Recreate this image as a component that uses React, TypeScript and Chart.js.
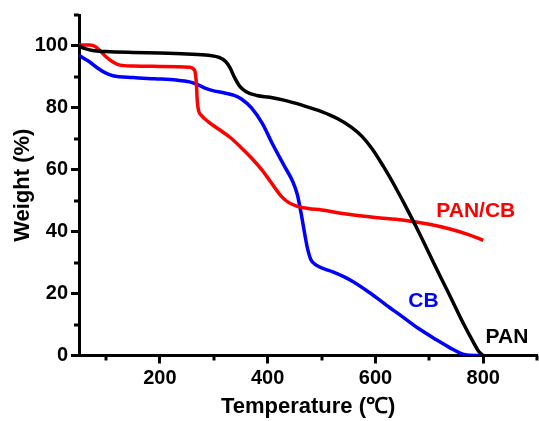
import React, { useEffect, useRef } from "react";
import { Chart, registerables } from "chart.js";

Chart.register(...registerables);

// ---- data (temperature in °C, weight in %) ----
const panTemp = [50, 60, 75, 100, 150, 200, 250, 290, 310, 322, 330, 338, 348, 360, 380, 404, 430, 465, 500, 530, 555, 575, 595, 615, 635, 655, 680, 700, 720, 740, 760, 780, 792, 800];
const panWeight = [100, 99.2, 98.5, 98.2, 97.9, 97.7, 97.4, 97, 96.3, 95, 93, 90, 87, 85.2, 84, 83.4, 82.5, 80.8, 78.8, 76.5, 73.8, 70.8, 66.5, 61, 55, 48.5, 40, 32.8, 25.6, 18.6, 11.4, 4.8, 1.2, 0];

const panCbTemp = [50, 70, 80, 90, 100, 113, 126, 150, 200, 255, 262, 266, 268, 269.5, 272, 277, 290, 310, 330, 350, 370, 390, 410, 425, 440, 455, 475, 500, 550, 600, 650, 700, 740, 770, 800];
const panCbWeight = [100.3, 100.3, 99.8, 98.3, 96.5, 94.8, 93.8, 93.5, 93.4, 93.1, 92.6, 91, 87, 82, 79, 77.6, 75.5, 73, 70.5, 67.3, 63.8, 59.8, 55, 51.5, 49.3, 48.2, 47.5, 47, 45.6, 44.6, 43.8, 42.4, 40.8, 39.2, 37.2];

const cbTemp = [50, 60, 70, 85, 100, 113, 150, 190, 230, 255, 270, 285, 300, 320, 338, 352, 370, 390, 410, 430, 447, 455, 462, 468, 474, 480, 490, 505, 521, 553, 590, 620, 651, 680, 714, 740, 757, 770, 800];
const cbWeight = [97, 95.9, 94.8, 92.8, 91.2, 90.4, 89.8, 89.4, 89, 88.4, 87.5, 86.3, 85.5, 84.8, 84, 82.8, 80, 75, 68, 61.5, 56, 52, 46, 40, 34.5, 31, 29.2, 28, 27, 24.4, 20.2, 16.3, 12.4, 8.7, 5, 2.3, 0.8, 0.2, 0];

const xMajorTicks = [200, 400, 600, 800];
const xMinorTicks = [100, 300, 500, 700, 900];
const yMajorTicks = [0, 20, 40, 60, 80, 100];
const yMinorTicks = [10, 30, 50, 70, 90, 110];

const seriesNames = ["PAN", "PAN/CB", "CB"];
const seriesColors = ["#000000", "#ff0000", "#0000ff"];
// label anchor points, in data coordinates
const labelTemps = [844, 786, 689];
const labelWeights = [6.0, 46.6, 17.6];

const FONT = "'Liberation Sans', Arial, Helvetica, sans-serif";

const toPoints = (t: number[], w: number[]) => t.map((v, i) => ({ x: v, y: w[i] }));

const extrasPlugin = {
  id: "extras",
  afterDraw(chart: any) {
    const { ctx, chartArea } = chart;
    const xs = chart.scales.x;
    const ys = chart.scales.y;
    ctx.save();
    ctx.strokeStyle = "#000";
    ctx.lineWidth = 3;
    xMinorTicks.forEach((v) => {
      const px = Math.round(xs.getPixelForValue(v));
      ctx.beginPath();
      ctx.moveTo(px, chartArea.bottom);
      ctx.lineTo(px, chartArea.bottom + 5);
      ctx.stroke();
    });
    yMinorTicks.forEach((v) => {
      const py = Math.round(ys.getPixelForValue(v));
      ctx.beginPath();
      ctx.moveTo(chartArea.left, py);
      ctx.lineTo(chartArea.left - 5, py);
      ctx.stroke();
    });
    ctx.font = `bold 21px ${FONT}`;
    ctx.textAlign = "center";
    ctx.textBaseline = "middle";
    seriesNames.forEach((n, i) => {
      ctx.fillStyle = seriesColors[i];
      ctx.fillText(n, xs.getPixelForValue(labelTemps[i]), ys.getPixelForValue(labelWeights[i]));
    });
    ctx.restore();
  },
};

export default function App() {
  const ref = useRef<HTMLCanvasElement>(null);

  useEffect(() => {
    if (!ref.current) return;
    const chart = new Chart(ref.current, {
      type: "line",
      data: {
        datasets: [
          { label: "PAN", data: toPoints(panTemp, panWeight), borderColor: seriesColors[0] },
          { label: "PAN/CB", data: toPoints(panCbTemp, panCbWeight), borderColor: seriesColors[1] },
          { label: "CB", data: toPoints(cbTemp, cbWeight), borderColor: seriesColors[2] },
        ].map((d) => ({
          ...d,
          borderWidth: 3.5,
          pointRadius: 0,
          cubicInterpolationMode: "monotone" as const,
          fill: false,
        })),
      },
      options: {
        responsive: false,
        animation: false,
        devicePixelRatio: 1,
        layout: { padding: { top: 14.5, right: 1.8, left: 0, bottom: 0 } },
        plugins: { legend: { display: false }, tooltip: { enabled: false } },
        scales: {
          x: {
            type: "linear",
            min: 50,
            max: 900,
            afterFit: (s: any) => {
              s.height = 65.5;
            },
            afterBuildTicks: (s: any) => {
              s.ticks = xMajorTicks.map((v) => ({ value: v }));
            },
            border: { display: true, color: "#000", width: 3 },
            grid: { drawOnChartArea: false, drawTicks: true, tickLength: 8, tickWidth: 3, tickColor: "#000" },
            ticks: {
              color: "#000",
              font: { family: FONT, size: 20, weight: "bold" },
              padding: 3,
              maxRotation: 0,
              autoSkip: false,
            },
            title: {
              display: true,
              text: "Temperature (℃)",
              color: "#000",
              font: { family: FONT, size: 22, weight: "bold" },
              padding: { top: 0, bottom: 1 },
            },
          },
          y: {
            type: "linear",
            min: 0,
            max: 110,
            afterFit: (s: any) => {
              s.width = 79;
            },
            afterBuildTicks: (s: any) => {
              s.ticks = yMajorTicks.map((v) => ({ value: v }));
            },
            border: { display: true, color: "#000", width: 3 },
            grid: { drawOnChartArea: false, drawTicks: true, tickLength: 8, tickWidth: 3, tickColor: "#000" },
            ticks: {
              color: "#000",
              font: { family: FONT, size: 20, weight: "bold" },
              padding: 3,
              autoSkip: false,
            },
            title: {
              display: true,
              text: "Weight (%)",
              color: "#000",
              font: { family: FONT, size: 22, weight: "bold" },
              padding: { top: 10, bottom: 0 },
            },
          },
        },
      },
      plugins: [extrasPlugin],
    });
    return () => chart.destroy();
  }, []);

  return (
    <div style={{ position: "absolute", left: 0, top: 0, width: 539, height: 421, background: "#fff" }}>
      <canvas ref={ref} width={539} height={421} style={{ width: 539, height: 421, display: "block" }} />
    </div>
  );
}
